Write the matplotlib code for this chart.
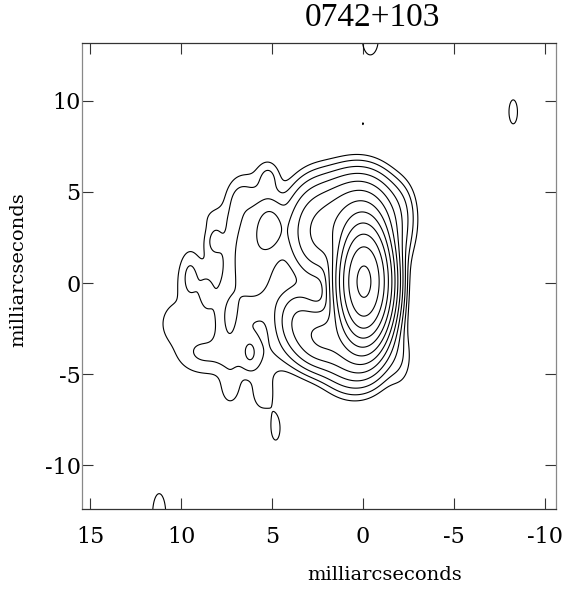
import numpy as np
import matplotlib
matplotlib.use('Agg')
import matplotlib.pyplot as plt

plt.rcParams['axes.unicode_minus'] = False

# source components: position (mas), peak (in units of the lowest contour), widths (mas)
comp_x = [-0.05, 0.3, 0.5, 2.5, 2.4, 3.6, 6.0, 5.1, 5.2, 6.2, 7.35, 6.5, 9.0,
          9.5, 9.5, 8.6, 8.2, 10.5, 8.2, 6.8, 5.5, 7.3, -2.1, -2.0,
          4.8, -0.4, 0.0, -8.25, 11.2]
comp_y = [0.07, 3.2, -2.9, 2.8, -3.0, -2.0, 1.5, 3.1, 5.8, -3.8, -1.95, -4.0, -3.8,
          -0.5, 0.35, -0.6, 2.3, -2.3, 3.6, 4.6, -6.1, -5.8, 4.3, -4.3,
          -8.0, 13.4, 8.75, 9.4, -12.7]
comp_amp = [2450, 80, 42, 30, 28, 14, 6.5, 8, 1.8, 2.6, 3.5, 1.7, 1.2,
            0.9, 1.6, 1.6, 1.7, 0.9, 0.8, 1.2, 1.5, 1.5, 1.2, 1.3,
            1.35, 1.6, 1.03, 1.35, 1.7]
comp_sx = [0.63, 1.1, 1.0, 0.9, 0.8, 0.7, 1.0, 0.5, 0.4, 0.3, 0.5, 2.0, 0.9,
           1.3, 0.35, 0.35, 0.35, 0.6, 0.5, 0.5, 0.5, 0.4, 0.5, 0.5,
           0.3, 0.45, 0.06, 0.3, 0.35]
comp_sy = [1.41, 1.3, 1.3, 1.4, 0.9, 1.0, 2.2, 0.9, 0.6, 0.6, 1.2, 0.9, 0.8,
           2.0, 0.9, 0.9, 0.6, 0.8, 0.5, 0.8, 0.8, 0.7, 0.9, 1.0,
           0.8, 0.9, 0.2, 0.85, 1.1]

levels = [1, 2, 4, 8, 16, 32, 64, 128, 256, 512, 1024, 2048]
ticks = [15, 10, 5, 0, -5, -10]
yticks = [-10, -5, 0, 5, 10]

xg = np.linspace(-12, 17, 600)
yg = np.linspace(-14, 15, 600)
X, Y = np.meshgrid(xg, yg)
Z = np.zeros_like(X)
for x0, y0, a, sx, sy in zip(comp_x, comp_y, comp_amp, comp_sx, comp_sy):
    Z += a * np.exp(-0.5 * (((X - x0) / sx) ** 2 + ((Y - y0) / sy) ** 2))

fig = plt.figure(figsize=(5.65, 5.89), dpi=100)
ax = fig.add_axes([82 / 565, 1 - 509 / 589, 474 / 565, 466 / 589])
ax.contour(X, Y, Z, levels=levels, colors='black', linewidths=0.8)

ax.set_xlim(15.44, -10.6)
ax.set_ylim(-12.41, 13.18)
ax.set_xticks(ticks)
ax.set_yticks(yticks)
ax.tick_params(direction='in', length=8, width=0.8, top=True, right=True,
               labelsize=16, color='#333333')
ax.tick_params(axis='x', pad=12)
ax.tick_params(axis='y', pad=1)
for lab in ax.get_xticklabels() + ax.get_yticklabels():
    lab.set_family('DejaVu Serif')
for side in ['left', 'right']:
    ax.spines[side].set_color('#888888')
for side in ['top', 'bottom']:
    ax.spines[side].set_color('#333333')
for sp in ax.spines.values():
    sp.set_linewidth(0.9)

fig.text(372 / 565, 1 - 18 / 589, '0742+103', ha='center', va='center',
         fontsize=24, family='Liberation Serif')
fig.text(385 / 565, 1 - 575 / 589, 'milliarcseconds', ha='center', va='center',
         fontsize=14, family='DejaVu Serif')
fig.text(18 / 565, 1 - 270 / 589, 'milliarcseconds', ha='center', va='center',
         rotation=90, fontsize=14, family='DejaVu Serif')

fig.savefig('out.png', dpi=100)
